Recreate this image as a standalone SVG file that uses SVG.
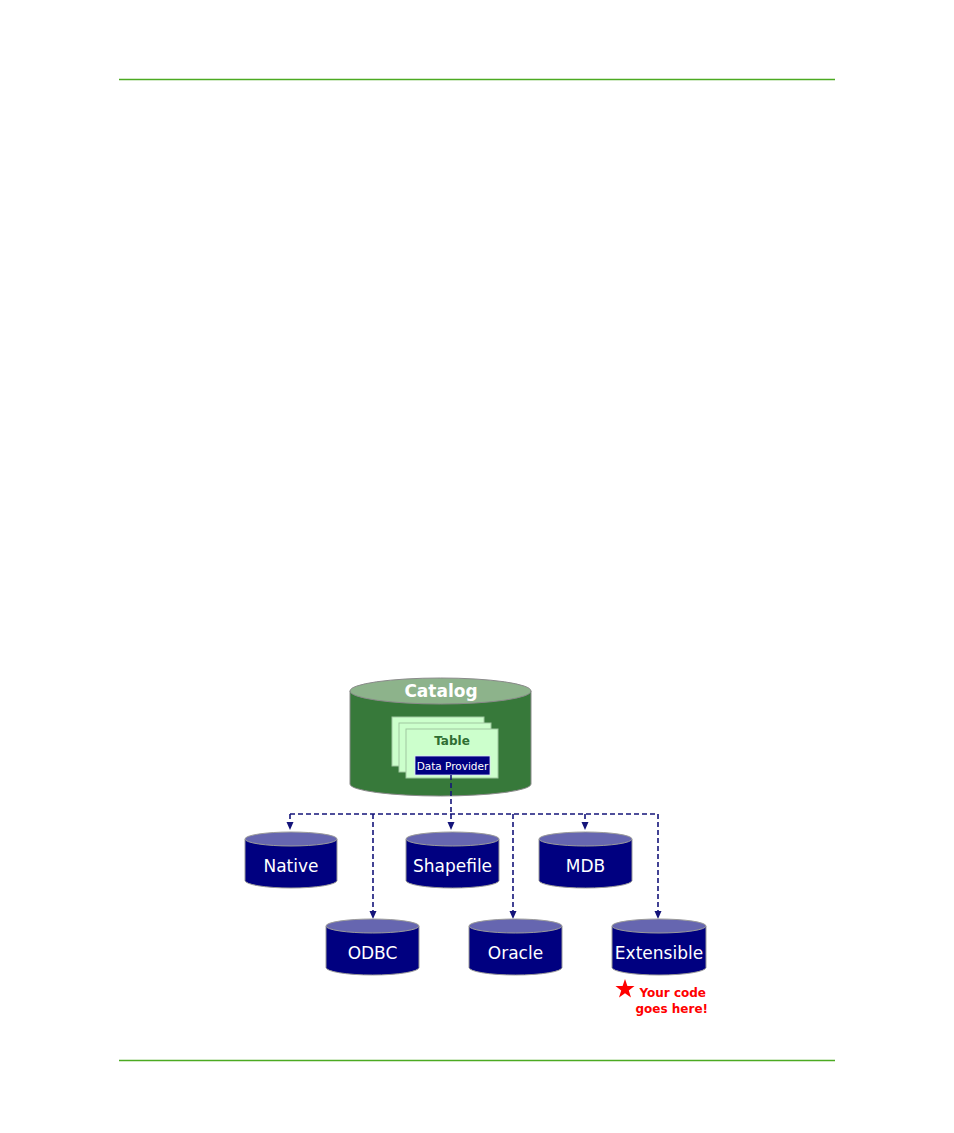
<svg xmlns="http://www.w3.org/2000/svg" width="954" height="1133" viewBox="0 0 954 1133">
<style>
.rule{stroke:#4caa22;stroke-width:1.3}
.body{fill:#000080;stroke:#9a9a9a;stroke-width:1}
.top{fill:#6666b0;stroke:#9a9a9a;stroke-width:1}
.lbl{font-family:"DejaVu Sans",Verdana,sans-serif;font-size:17px;fill:#ffffff;text-anchor:middle}
.conn{fill:none;stroke:#14147a;stroke-width:1.6;stroke-dasharray:5,3}
.sheet{fill:#ccffcc;stroke:#9fc79f;stroke-width:1}
.red{font-family:"DejaVu Sans",Verdana,sans-serif;font-size:12px;font-weight:bold;fill:#ff0000;text-anchor:end}
</style>
<defs>
<marker id="ah" viewBox="0 0 8 8" refX="7" refY="4" markerWidth="8" markerHeight="8" markerUnits="userSpaceOnUse" orient="auto">
<path d="M0,0.5 L8,4 L0,7.5 Z" fill="#14147a"/>
</marker>
</defs>
<rect width="954" height="1133" fill="#ffffff"/>
<line class="rule" x1="119" y1="79.5" x2="835" y2="79.5"/>
<line class="rule" x1="119" y1="1060.5" x2="835" y2="1060.5"/>

<g id="catalog">
<path d="M350,691 L350,784 A90.5,12 0 0 0 531,784 L531,691 Z" fill="#37793a" stroke="#8a8a8a" stroke-width="1"/>
<ellipse cx="440.5" cy="691" rx="90.5" ry="13" fill="#8db38b" stroke="#8a8a8a" stroke-width="1"/>
<text x="441" y="697" font-family="'DejaVu Sans',Verdana,sans-serif" font-size="17" font-weight="bold" fill="#ffffff" text-anchor="middle">Catalog</text>
<rect class="sheet" x="392" y="717" width="92" height="49"/>
<rect class="sheet" x="399" y="723" width="92" height="49"/>
<rect class="sheet" x="406" y="729" width="92" height="49"/>
<text x="452" y="745" font-family="'DejaVu Sans',Verdana,sans-serif" font-size="12" font-weight="bold" fill="#2f6e32" text-anchor="middle">Table</text>
<rect x="415" y="756" width="75" height="19" fill="#000080" stroke="#e0e0ff" stroke-width="0.8"/>
<text x="452.5" y="770" font-family="'DejaVu Sans',Verdana,sans-serif" font-size="10.5" fill="#ffffff" text-anchor="middle">Data Provider</text>
</g>

<g id="connectors">
<polyline class="conn" points="451,775 451,814"/>
<polyline class="conn" points="290,814 658,814"/>
<line class="conn" x1="290" y1="814" x2="290" y2="829" marker-end="url(#ah)"/>
<line class="conn" x1="373" y1="814" x2="373" y2="918" marker-end="url(#ah)"/>
<line class="conn" x1="451" y1="814" x2="451" y2="829" marker-end="url(#ah)"/>
<line class="conn" x1="513" y1="814" x2="513" y2="918" marker-end="url(#ah)"/>
<line class="conn" x1="585" y1="814" x2="585" y2="829" marker-end="url(#ah)"/>
<line class="conn" x1="658" y1="814" x2="658" y2="918" marker-end="url(#ah)"/>
</g>

<g id="native">
<path class="body" d="M245,839 L245,880.5 A46,7.5 0 0 0 337,880.5 L337,839 Z"/>
<ellipse class="top" cx="291" cy="839" rx="46" ry="7"/>
<text class="lbl" x="291" y="872">Native</text>
</g>
<g id="shapefile">
<path class="body" d="M406,839 L406,880.5 A46.5,7.5 0 0 0 499,880.5 L499,839 Z"/>
<ellipse class="top" cx="452.5" cy="839" rx="46.5" ry="7"/>
<text class="lbl" x="452.5" y="872">Shapefile</text>
</g>
<g id="mdb">
<path class="body" d="M539,839 L539,880.5 A46.5,7.5 0 0 0 632,880.5 L632,839 Z"/>
<ellipse class="top" cx="585.5" cy="839" rx="46.5" ry="7"/>
<text class="lbl" x="585.5" y="872">MDB</text>
</g>
<g id="odbc">
<path class="body" d="M326,926 L326,967.5 A46.5,7.5 0 0 0 419,967.5 L419,926 Z"/>
<ellipse class="top" cx="372.5" cy="926" rx="46.5" ry="7"/>
<text class="lbl" x="372.5" y="959">ODBC</text>
</g>
<g id="oracle">
<path class="body" d="M469,926 L469,967.5 A46.5,7.5 0 0 0 562,967.5 L562,926 Z"/>
<ellipse class="top" cx="515.5" cy="926" rx="46.5" ry="7"/>
<text class="lbl" x="515.5" y="959">Oracle</text>
</g>
<g id="extensible">
<path class="body" d="M612,926 L612,967.5 A47,7.5 0 0 0 706,967.5 L706,926 Z"/>
<ellipse class="top" cx="659" cy="926" rx="47" ry="7"/>
<text class="lbl" x="659" y="959">Extensible</text>
</g>

<g id="note">
<polygon fill="#ff0000" points="625,979 627.4,986 634.5,986 628.8,990.4 631,997.5 625,993.2 619,997.5 621.2,990.4 615.5,986 622.6,986"/>
<text class="red" x="706" y="997">Your code</text>
<text class="red" x="708" y="1013">goes here!</text>
</g>
</svg>
